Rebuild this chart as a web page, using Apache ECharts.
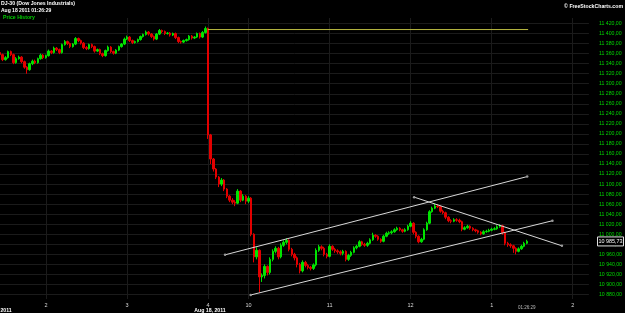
<!DOCTYPE html>
<html>
<head>
<meta charset="utf-8">
<script src="https://cdn.jsdelivr.net/npm/echarts@6/dist/echarts.min.js"></script>
<style>
html,body{margin:0;padding:0;background:#000;}
#c{width:625px;height:313px;}
</style>
</head>
<body>
<div id="c"></div>
<script>
// ---- data: 2-minute bars, x = trading minutes relative to the Aug 17 close / Aug 18 open ----
const aug17Start = -154;   // first bar of Aug 17 shown
const aug18Start = 0;      // first bar of Aug 18 (9:30)
const barStep = 2;
const aug17FirstOpen = 11362;
const aug17Closes = [11358,11348,11352,11364,11358,11342,11350,11353,11344,11333,11328,11340,11345,11342,11350,11357,11352,11356,11365,11362,11371,11368,11362,11378,11384,11380,11374,11379,11390,11386,11381,11372,11370,11378,11374,11365,11368,11360,11356,11366,11373,11364,11361,11367,11374,11379,11389,11393,11386,11382,11384,11388,11394,11398,11403,11399,11394,11389,11399,11406,11404,11400,11401,11397,11400,11392,11384,11383,11386,11388,11395,11391,11393,11400,11393,11402,11410];
const aug17Highs = [11365,11360,11355,11366,11366,11360,11353,11356,11355,11346,11335,11342,11348,11348,11352,11360,11359,11358,11368,11367,11374,11373,11370,11380,11387,11386,11382,11381,11393,11392,11388,11383,11375,11380,11380,11376,11370,11370,11362,11368,11376,11375,11366,11369,11376,11381,11392,11396,11395,11388,11386,11390,11396,11400,11406,11405,11401,11396,11401,11409,11408,11406,11403,11403,11402,11402,11394,11386,11388,11390,11397,11397,11395,11402,11402,11405,11414];
const aug17Lows = [11355,11345,11346,11350,11355,11339,11340,11348,11341,11330,11320,11326,11337,11339,11340,11348,11349,11350,11354,11359,11360,11365,11359,11360,11376,11377,11371,11372,11377,11383,11378,11369,11367,11368,11371,11362,11363,11357,11353,11354,11364,11361,11358,11359,11365,11372,11377,11387,11383,11379,11380,11382,11386,11392,11396,11396,11391,11386,11387,11397,11401,11397,11398,11394,11395,11389,11381,11380,11381,11384,11386,11388,11389,11391,11390,11391,11400];

const aug18Closes = [11198,11150,11130,11114,11100,11108,11090,11076,11068,11064,11062,11086,11068,11076,11066,11072,11000,10955,10968,10915,10918,10936,10924,10950,10966,10972,10955,10978,10984,10988,10970,10960,10953,10940,10927,10944,10938,10934,10932,10939,10968,10975,10972,10960,10956,10976,10970,10967,10965,10962,10966,10950,10958,10964,10973,10976,10985,10980,10978,10982,10989,10998,10996,10990,10986,10996,11002,11003,11005,11009,11012,11009,11006,11009,11016,11022,11004,10996,10985,10990,11009,11022,11045,11052,11056,11055,11046,11043,11034,11027,11026,11029,11028,11025,11010,11013,11016,11012,11009,11007,11004,11001,11005,11006,11008,11010,11011,11015,11017,11003,10982,10979,10977,10972,10966,10971,10976,10982,10986];
const aug18Highs = [11412,11200,11152,11132,11116,11112,11110,11092,11078,11072,11068,11090,11088,11080,11078,11076,11074,11002,10974,10970,10922,10940,10938,10954,10970,10976,10975,10982,10988,10992,10990,10973,10963,10956,10943,10948,10947,10941,10937,10942,10972,10979,10978,10975,10963,10980,10978,10973,10970,10968,10969,10968,10961,10967,10976,10979,10988,10987,10983,10985,10992,11003,11000,10998,10992,10999,11005,11006,11008,11012,11015,11014,11011,11012,11019,11026,11024,11006,10998,10993,11012,11025,11048,11055,11061,11060,11057,11049,11045,11036,11030,11032,11032,11031,11027,11016,11019,11018,11014,11011,11009,11006,11008,11009,11011,11013,11014,11018,11020,11019,11005,10985,10982,10979,10974,10974,10979,10985,10989];
const aug18Lows = [11190,11140,11125,11110,11094,11096,11086,11072,11064,11060,11056,11060,11064,11066,11060,11062,10996,10944,10950,10884,10905,10912,10918,10920,10946,10962,10950,10952,10975,10980,10966,10956,10948,10934,10922,10924,10934,10930,10928,10929,10936,10965,10968,10956,10952,10954,10967,10963,10961,10958,10958,10946,10947,10955,10962,10970,10974,10977,10975,10975,10980,10987,10993,10987,10983,10984,10994,10999,11000,11003,11007,11006,11003,11004,11007,11014,11000,10992,10982,10983,10988,11007,11020,11043,11050,11052,11043,11040,11030,11024,11022,11024,11025,11022,11006,11008,11011,11009,11006,11004,11001,10998,10999,11003,11004,11006,11008,11009,11013,10999,10978,10975,10973,10963,10960,10964,10969,10974,10980];
const lastPrice = 10985.73;

// axis ticks
const hourTicks = [-120, -60, 0, 30, 90, 150, 210, 270];
const hourLabels = ['2', '3', '4', '10', '11', '12', '1', '2'];
const priceTicks = [10880,10900,10920,10940,10960,10980,11000,11020,11040,11060,11080,11100,11120,11140,11160,11180,11200,11220,11240,11260,11280,11300,11320,11340,11360,11380,11400,11420];
const dateMarks = [-157, 0];
const dateLabels = ['Aug 17, 2011', 'Aug 18, 2011'];
const lastBarTime = 236;
const lastBarLabel = '01:26:29';

// drawn trend lines [minute, price]
const priorCloseLine = [[0, 11408], [237, 11408]];
const upperChannel = [[12.6, 10959], [236.3, 11115]];
const lowerChannel = [[31.6, 10879], [255, 11027]];
const downTrend = [[152.6, 11074], [262, 10977]];

// ---- build candles ----
function buildCandles(start, firstOpen, closes, highs, lows) {
  const out = [];
  let prev = firstOpen;
  for (let i = 0; i < closes.length; i++) {
    out.push([start + i * barStep, prev, closes[i], lows[i], highs[i]]);
    prev = closes[i];
  }
  return out;
}
const candles = buildCandles(aug17Start, aug17FirstOpen, aug17Closes, aug17Highs, aug17Lows)
  .concat(buildCandles(aug18Start, aug17Closes[aug17Closes.length - 1], aug18Closes, aug18Highs, aug18Lows));

function fmtPrice(v) {
  const s = v.toFixed(2).split('.');
  const int = s[0].replace(/\B(?=(\d{3})+(?!\d))/g, ' ');
  return int + ',' + s[1];
}

const FONT = 'Liberation Sans';
const chart = echarts.init(document.getElementById('c'), null, {renderer: 'canvas'});

function trend(data, withDots) {
  return {
    type: 'line', data: data, silent: true, animation: false,
    symbol: withDots ? 'circle' : 'none', symbolSize: 2.5,
    itemStyle: {color: '#9a9a9a'},
    lineStyle: {color: withDots ? '#d8d8d8' : '#b8b840', width: 1},
    z: 5
  };
}

chart.setOption({
  backgroundColor: '#000000',
  animation: false,
  grid: {left: 0, right: 36, top: 18, bottom: 14, containLabel: false},
  xAxis: {
    type: 'value', min: -154, max: 282,
    axisLine: {show: false}, axisTick: {show: false, customValues: hourTicks},
    splitLine: {show: true, lineStyle: {color: '#1b1b1b', width: 1}},
    axisLabel: {
      customValues: hourTicks, color: '#d8d8d8', fontSize: 5.5, fontFamily: FONT, margin: 3,
      formatter: function (v) { const k = hourTicks.indexOf(v); return k >= 0 ? hourLabels[k] : ''; }
    }
  },
  yAxis: {
    type: 'value', position: 'right', min: 10871, max: 11431, scale: true,
    axisLine: {show: false}, axisTick: {show: false, customValues: priceTicks},
    splitLine: {show: true, lineStyle: {color: '#1b1b1b', width: 1}},
    axisLabel: {
      customValues: priceTicks, color: '#00d800', fontSize: 5.2, fontFamily: FONT, margin: 10,
      formatter: function (v) { return fmtPrice(v); }
    }
  },
  series: [
    {
      type: 'candlestick', data: candles, barWidth: 2, animation: false,
      encode: {x: 0, y: [1, 2, 3, 4]},
      itemStyle: {color: '#00e400', color0: '#e40000', borderColor: '#00e400', borderColor0: '#e40000', borderWidth: 1},
      z: 3
    },
    trend(priorCloseLine, false),
    trend(upperChannel, true),
    trend(lowerChannel, true),
    trend(downTrend, true)
  ]
});

// texts and the current price box, positioned through the chart's scales
const lastPx = chart.convertToPixel({gridIndex: 0}, [lastBarTime, lastPrice]);
const d17 = chart.convertToPixel({gridIndex: 0}, [dateMarks[0], lastPrice]);
const d18 = chart.convertToPixel({gridIndex: 0}, [dateMarks[1], lastPrice]);
chart.setOption({
  graphic: [
    {type: 'text', left: 1, top: 1, style: {text: 'DJ-30 (Dow Jones Industrials)', fill: '#ffffff', font: 'bold 5.2px ' + FONT}},
    {type: 'text', left: 1, top: 8, style: {text: 'Aug 18 2011 01:26:29', fill: '#ffffff', font: 'bold 5px ' + FONT}},
    {type: 'text', left: 3, top: 15, style: {text: 'Price History', fill: '#00d000', font: 'bold 5.2px ' + FONT}},
    {type: 'text', right: 2, top: 4, style: {text: '\u00a9 FreeStockCharts.com', fill: '#ffffff', font: 'bold 5.2px ' + FONT}},
    {type: 'text', x: d17[0], y: 311, style: {text: dateLabels[0], fill: '#ffffff', font: 'bold 5.2px ' + FONT, align: 'center', verticalAlign: 'middle'}},
    {type: 'text', x: d18[0] + 2, y: 311, style: {text: dateLabels[1], fill: '#ffffff', font: 'bold 5.2px ' + FONT, align: 'center', verticalAlign: 'middle'}},
    {type: 'text', x: lastPx[0], y: 307.5, style: {text: lastBarLabel, fill: '#bbbbbb', font: '4.5px ' + FONT, align: 'center', verticalAlign: 'middle'}},
    {type: 'rect', shape: {x: 597.5, y: lastPx[1] - 4.5, width: 26, height: 9}, style: {fill: '#000', stroke: '#e0e0e0', lineWidth: 1}, z: 20},
    {type: 'text', x: 610.5, y: lastPx[1], style: {text: fmtPrice(lastPrice), fill: '#ffffff', font: '5.4px ' + FONT, align: 'center', verticalAlign: 'middle'}, z: 21}
  ]
});
</script>
</body>
</html>
